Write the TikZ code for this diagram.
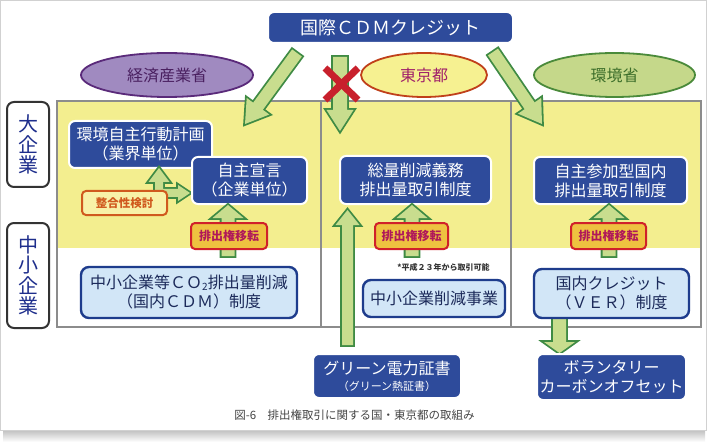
\documentclass[tikz,border=0pt]{standalone}
\usepackage{fontspec}
\setmainfont{Noto Sans CJK JP}
\usetikzlibrary{calc,shapes.geometric}
\definecolor{dblue}{HTML}{2E4B9B}
\definecolor{lfill}{HTML}{D2E6F7}
\definecolor{lbord}{HTML}{1E3C8C}
\definecolor{ltext}{HTML}{1C2A5A}
\definecolor{yel}{HTML}{F3EE8F}
\definecolor{gridc}{HTML}{8C8C8C}
\definecolor{agreen}{HTML}{3F8B44}
\definecolor{alight}{HTML}{C8DD8E}
\definecolor{xred}{HTML}{C8202C}
\definecolor{gold}{HTML}{EEC240}
\definecolor{gbord}{HTML}{D0202A}
\definecolor{gtext}{HTML}{B0185A}
\definecolor{orng}{HTML}{D05A1E}
\definecolor{paley}{HTML}{F8F2A8}
\definecolor{purf}{HTML}{A08AC0}
\definecolor{purb}{HTML}{5A2A7A}
\definecolor{purt}{HTML}{4A2060}
\definecolor{tyf}{HTML}{F6F191}
\definecolor{tyb}{HTML}{C0401A}
\definecolor{tyt}{HTML}{A0206A}
\definecolor{kgf}{HTML}{C5D88A}
\definecolor{kgb}{HTML}{4A8A3A}
\definecolor{kgt}{HTML}{3C6E2A}
\definecolor{labtext}{HTML}{1E2E8C}
\definecolor{capt}{HTML}{444444}
\newcommand\blockarr[6]{%
  \coordinate (ba-base) at ($(#3)!#6!(#2)$);
  \path[#1] ($(#2)!#4!90:(#3)$) -- ($(ba-base)!#4!90:(#3)$) -- ($(ba-base)!#5!90:(#3)$) -- (#3)
    -- ($(ba-base)!#5!-90:(#3)$) -- ($(ba-base)!#4!-90:(#3)$) -- ($(#2)!#4!-90:(#3)$) -- cycle;}
\tikzset{
  arrline/.style={draw=agreen, line width=3.6pt, line join=miter},
  arrfill/.style={fill=alight},
  dbox/.style={draw=white, line width=2pt, fill=dblue, rounded corners=6pt, text=white,
    inner sep=0pt, align=center, font=\fontsize{16}{19}\selectfont},
  lbox/.style={draw=lbord, line width=2.4pt, fill=lfill, rounded corners=8pt, text=ltext,
    inner sep=0pt, align=center, font=\fontsize{16}{19}\selectfont},
  gbox/.style={draw=gbord, line width=2pt, fill=gold, rounded corners=4pt, text=gtext,
    inner sep=0pt, align=center, minimum height=26, font=\fontsize{12}{12}\selectfont\bfseries},
  lab/.style={draw=black!80, line width=2pt, fill=white, rounded corners=7pt, text=labtext,
    inner sep=0pt, align=center, minimum width=42, font=\fontsize{20}{20.5}\selectfont},
  ell/.style={ellipse, line width=1.8pt, inner sep=0pt, minimum height=44, font=\fontsize{16}{16}\selectfont},
  gridline/.style={draw=gridc, line width=1.5pt}
}
\begin{document}
\begin{tikzpicture}[x=1pt,y=-1pt]
\useasboundingbox (0,0) rectangle (708,446);
% panel and shadow
\shade[top color=black!25, bottom color=white] (3,430) rectangle (705,442);
\draw[draw=black!18, line width=1pt, fill=white] (0.5,0.5) rectangle (706.5,430);
% grid
\fill[yel] (57,101) rectangle (701,248);
\draw[gridline] (57,101) rectangle (701,327);
\draw[gridline] (321,101) -- (321,327);
\draw[gridline] (511,101) -- (511,327);
% ellipses
\node[ell, draw=purb, fill=purf, text=purt, minimum width=172] (meti) at (167,75) {経済産業省};
\node[ell, draw=tyb, fill=tyf, text=tyt, minimum width=126] (tokyo) at (424,75) {東京都};
\node[ell, draw=kgb, fill=kgf, text=kgt, minimum width=161] (moe) at (614.5,75) {環境省};
% top box
\node[dbox, minimum width=245, minimum height=31, font=\fontsize{18}{18}\selectfont] (cdm) at (390.5,27.5) {国際ＣＤＭクレジット};
% arrow coordinates
\coordinate (la-s) at (297,53);   \coordinate (la-e) at (245,124);
\coordinate (ra-s) at (493,52);   \coordinate (ra-e) at (542,124);
\coordinate (ma-s) at (340,57);   \coordinate (ma-e) at (340,131);
\blockarr{arrline}{la-s}{la-e}{6pt}{14pt}{22pt}
\blockarr{arrfill}{la-s}{la-e}{6pt}{14pt}{22pt}
\blockarr{arrline}{ra-s}{ra-e}{6pt}{14pt}{22pt}
\blockarr{arrfill}{ra-s}{ra-e}{6pt}{14pt}{22pt}
\blockarr{arrline}{ma-s}{ma-e}{7pt}{13.5pt}{21pt}
\blockarr{arrfill}{ma-s}{ma-e}{7pt}{13.5pt}{21pt}
% red X
\coordinate (x1) at (325,68); \coordinate (x2) at (358,100);
\coordinate (x3) at (358,68); \coordinate (x4) at (325,100);
\draw[xred, line width=7pt] (x1) -- (x2);
\draw[xred, line width=7pt] (x3) -- (x4);
% side labels
\node[lab, minimum height=85] (big) at (28,144.5) {大\\企\\業};
\node[lab, minimum height=105] (sme) at (28,275.5) {中\\小\\企\\業};
% left column
\node[dbox, minimum width=143, minimum height=47] (jishu) at (140.5,144.5) {環境自主行動計画\\（業界単位）};
\coordinate (sv-s) at (159,196); \coordinate (sv-e) at (159,168);
\coordinate (sh-s) at (157,193); \coordinate (sh-e) at (190,193);
\blockarr{arrline}{sv-s}{sv-e}{4pt}{10.5pt}{14pt}
\blockarr{arrline}{sh-s}{sh-e}{4pt}{8pt}{12pt}
\blockarr{arrfill}{sv-s}{sv-e}{4pt}{10.5pt}{14pt}
\blockarr{arrfill}{sh-s}{sh-e}{4pt}{8pt}{12pt}
\node[dbox, minimum width=115, minimum height=47] (sengen) at (249.5,180.5) {自主宣言\\（企業単位）};
\node[draw=orng, line width=2pt, fill=paley, rounded corners=4pt, text=orng, inner sep=0pt,
  minimum width=85, minimum height=24, font=\fontsize{11.5}{11.5}\selectfont\bfseries] (seigo) at (124.5,203) {整合性検討};
\coordinate (lu-s) at (228,256); \coordinate (lu-e) at (228,205);
\blockarr{arrline}{lu-s}{lu-e}{6.5pt}{15.5pt}{13pt}
\blockarr{arrfill}{lu-s}{lu-e}{6.5pt}{15.5pt}{13pt}
\node[gbox, minimum width=76] (tr1) at (229,236) {排出権移転};
\node[lbox, minimum width=216, minimum height=51] (jcdm) at (189,292.5) {中小企業等ＣＯ\raisebox{-1.5pt}{\fontsize{10}{10}\selectfont 2}排出量削減\\（国内ＣＤＭ）制度};
% middle column
\coordinate (gu-s) at (347.5,345); \coordinate (gu-e) at (347.5,210);
\blockarr{arrline}{gu-s}{gu-e}{5.5pt}{12pt}{15pt}
\blockarr{arrfill}{gu-s}{gu-e}{5.5pt}{12pt}{15pt}
\node[dbox, minimum width=151, minimum height=48] (soryo) at (415.5,180) {総量削減義務\\排出量取引制度};
\coordinate (mu-s) at (412,256); \coordinate (mu-e) at (412,205);
\blockarr{arrline}{mu-s}{mu-e}{6.5pt}{15.5pt}{13pt}
\blockarr{arrfill}{mu-s}{mu-e}{6.5pt}{15.5pt}{13pt}
\node[gbox, minimum width=73] (tr2) at (411.5,236) {排出権移転};
\node[text=black!80, inner sep=0pt, font=\fontsize{8}{8}\selectfont\bfseries] (note) at (443.5,267) {*平成２３年から取引可能};
\node[lbox, minimum width=142, minimum height=37] (smep) at (434,298.5) {中小企業削減事業};
\node[dbox, minimum width=148, minimum height=44] (green) at (387,376) {グリーン電力証書\\[-3pt]{\fontsize{11}{11}\selectfont （グリーン熱証書）}};
% right column
\node[dbox, minimum width=153, minimum height=47] (jvets) at (610.5,180.5) {自主参加型国内\\排出量取引制度};
\coordinate (ru-s) at (609,256); \coordinate (ru-e) at (609,205);
\blockarr{arrline}{ru-s}{ru-e}{6.5pt}{15.5pt}{13pt}
\blockarr{arrfill}{ru-s}{ru-e}{6.5pt}{15.5pt}{13pt}
\node[gbox, minimum width=75] (tr3) at (608.5,236) {排出権移転};
\coordinate (vd-s) at (559.5,316); \coordinate (vd-e) at (559.5,353);
\blockarr{arrline}{vd-s}{vd-e}{6.5pt}{15.5pt}{11pt}
\blockarr{arrfill}{vd-s}{vd-e}{6.5pt}{15.5pt}{11pt}
\node[lbox, minimum width=155, minimum height=49] (ver) at (611.5,293.5) {国内クレジット\\（ＶＥＲ）制度};
\node[dbox, minimum width=149, minimum height=46] (vol) at (611.5,377) {ボランタリー\\カーボンオフセット};
% caption
\node[text=capt, inner sep=0pt, font=\fontsize{11.5}{11.5}\selectfont] (cap) at (354.5,415) {図-6　排出権取引に関する国・東京都の取組み};
\end{tikzpicture}
\end{document}
